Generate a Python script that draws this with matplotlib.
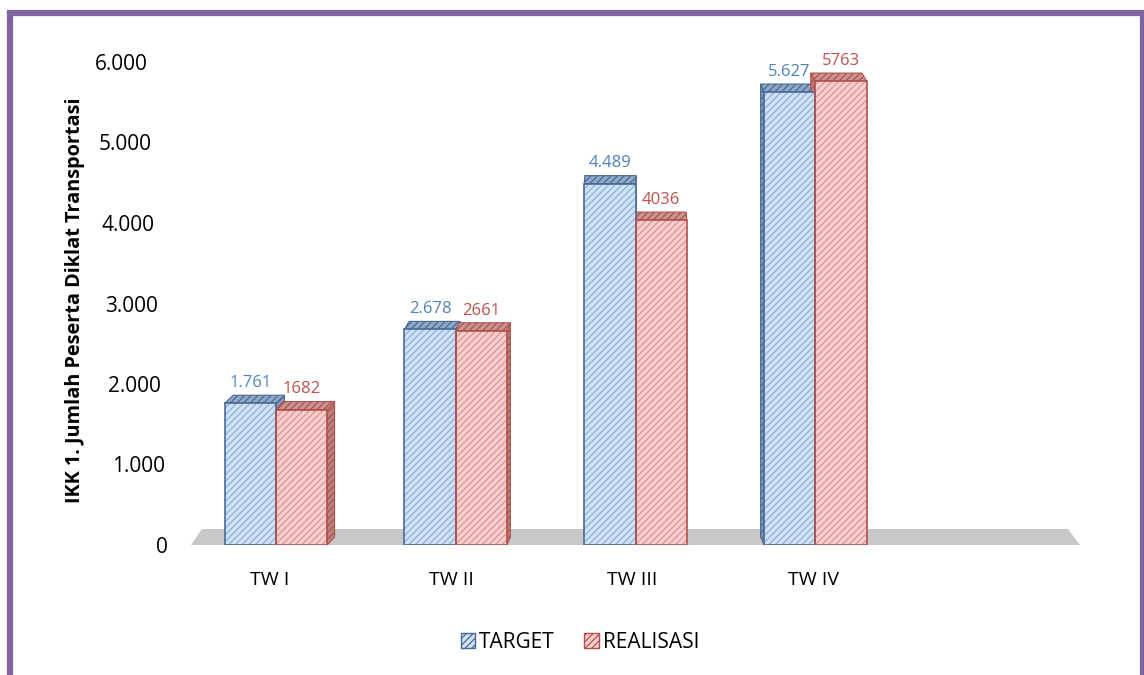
import matplotlib
matplotlib.use("Agg")
import matplotlib.pyplot as plt
from matplotlib.patches import Polygon, Rectangle, Patch
from matplotlib.transforms import ScaledTranslation

# ---- data ----
categories = ["TW I", "TW II", "TW III", "TW IV"]
target = [1761, 2678, 4489, 5627]
realisasi = [1682, 2661, 4036, 5763]
target_labels = ["1.761", "2.678", "4.489", "5.627"]
realisasi_labels = ["1682", "2661", "4036", "5763"]
y_ticks = [0, 1000, 2000, 3000, 4000, 5000, 6000]
y_ticklabels = ["0", "1.000", "2.000", "3.000", "4.000", "5.000", "6.000"]
series_names = ["TARGET", "REALISASI"]
y_title = "IKK 1. Jumlah Peserta Diklat Transportasi"

FONT = ["Open Sans", "DejaVu Sans"]
plt.rcParams["font.family"] = FONT
plt.rcParams["hatch.linewidth"] = 0.9

W, H = 1144, 675
fig = plt.figure(figsize=(W / 100, H / 100), dpi=100)
ax_l, ax_r, ax_b, ax_t = 186, 1085, 545, 62
ax = fig.add_axes([ax_l / W, (H - ax_b) / H, (ax_r - ax_l) / W, (ax_b - ax_t) / H])
n_slots = 5
ax.set_xlim(-0.5, n_slots - 0.5)
ax.set_ylim(0, 6000)
px_x = (ax_r - ax_l) / n_slots
px_y = (ax_b - ax_t) / 6000.0

for s in ax.spines.values():
    s.set_visible(False)

# floor
fl = [(-0.5 + 5 / px_x, 0), (-0.5 + 16 / px_x, 16 / px_y),
      (n_slots - 0.5 - 17 / px_x, 16 / px_y), (n_slots - 0.5 - 5 / px_x, 0)]
ax.add_patch(Polygon(fl, closed=True, facecolor="#C8C8C8", edgecolor="none",
                     zorder=1, clip_on=False))

styles = [
    dict(fill="#D0E2F5", hatch="#8FB0DA", edge="#4A6A93", top="#8FA9C8", side="#7E98B8",
         text="#4F81BD"),
    dict(fill="#F8CFCD", hatch="#DC9593", edge="#B0504C", top="#C99593", side="#B78381",
         text="#C0504D"),
]
bw = 0.285
dy = 8 / px_y
vx = 2.0
kx = 8 / px_x / 2.0

def draw_bar(xc, h, st):
    x0, x1 = xc - bw / 2, xc + bw / 2
    dx = kx * (vx - xc)
    top = [(x0, h), (x1, h), (x1 + dx, h + dy), (x0 + dx, h + dy)]
    if dx >= 0:
        side = [(x1, 0), (x1, h), (x1 + dx, h + dy), (x1 + dx, dy)]
    else:
        side = [(x0, 0), (x0, h), (x0 + dx, h + dy), (x0 + dx, dy)]
    for poly, fc in ((side, st["side"]), (top, st["top"])):
        ax.add_patch(Polygon(poly, closed=True, facecolor=fc, edgecolor=st["edge"],
                             lw=0.8, hatch="/////", zorder=2, clip_on=False))

fronts = []
for i in range(len(categories)):
    for j, (vals, st) in enumerate(((target, styles[0]), (realisasi, styles[1]))):
        xc = i + (j - 0.5) * bw
        draw_bar(xc, vals[i], st)
        fronts.append((xc, vals[i], st))

for xc, h, st in fronts:
    ax.bar(xc, h, width=bw, color=st["fill"], edgecolor=st["hatch"], hatch="/////",
           lw=0, zorder=3)
    ax.bar(xc, h, width=bw, facecolor="none", edgecolor=st["edge"], lw=1.2, zorder=4)

for i in range(len(categories)):
    for j, (vals, labs, st) in enumerate(((target, target_labels, styles[0]),
                                          (realisasi, realisasi_labels, styles[1]))):
        xc = i + (j - 0.5) * bw
        ax.annotate(labs[i], (xc, vals[i]), xytext=(0, 14.5), textcoords="offset points",
                    ha="center", va="center", fontsize=12, color=st["text"],
                    annotation_clip=False, zorder=5)

ax.set_xticks(range(len(categories)))
ax.set_xticklabels(categories, fontsize=14)
ax.tick_params(axis="x", length=0, pad=19)
for k, lab in enumerate(ax.get_xticklabels()):
    lab.set_transform(lab.get_transform() + ScaledTranslation(-(4 - k) * 1.5 / 100, 0, fig.dpi_scale_trans))

ax.set_yticks(y_ticks)
ax.set_yticklabels(y_ticklabels, fontsize=15)
ax.tick_params(axis="y", length=0, pad=13)
for v, lab in zip(y_ticks, ax.get_yticklabels()):
    lab.set_transform(lab.get_transform() + ScaledTranslation(-20 * v / 6000 / 100, 0, fig.dpi_scale_trans))

fig.text(75 / W, 1 - 300 / H, y_title, rotation=90, ha="center", va="center",
         fontsize=14.3, fontweight="bold")

handles = [Patch(facecolor=styles[0]["fill"], edgecolor=styles[0]["edge"], hatch="/////"),
           Patch(facecolor=styles[1]["fill"], edgecolor=styles[1]["edge"], hatch="/////")]
fig.legend(handles, series_names, loc="center", bbox_to_anchor=(580 / W, 1 - 642 / H),
           ncol=2, frameon=False, fontsize=15, handlelength=0.7, handleheight=0.7,
           handletextpad=0.2, columnspacing=1.4)

# purple frame
fig.add_artist(Rectangle((10 / W, -0.05), (1142.5 - 10) / W, 1.05 - 13 / H,
                         transform=fig.transFigure, fill=False, edgecolor="#8064A2",
                         lw=4.5, zorder=10))

fig.savefig("out.png", dpi=100)
